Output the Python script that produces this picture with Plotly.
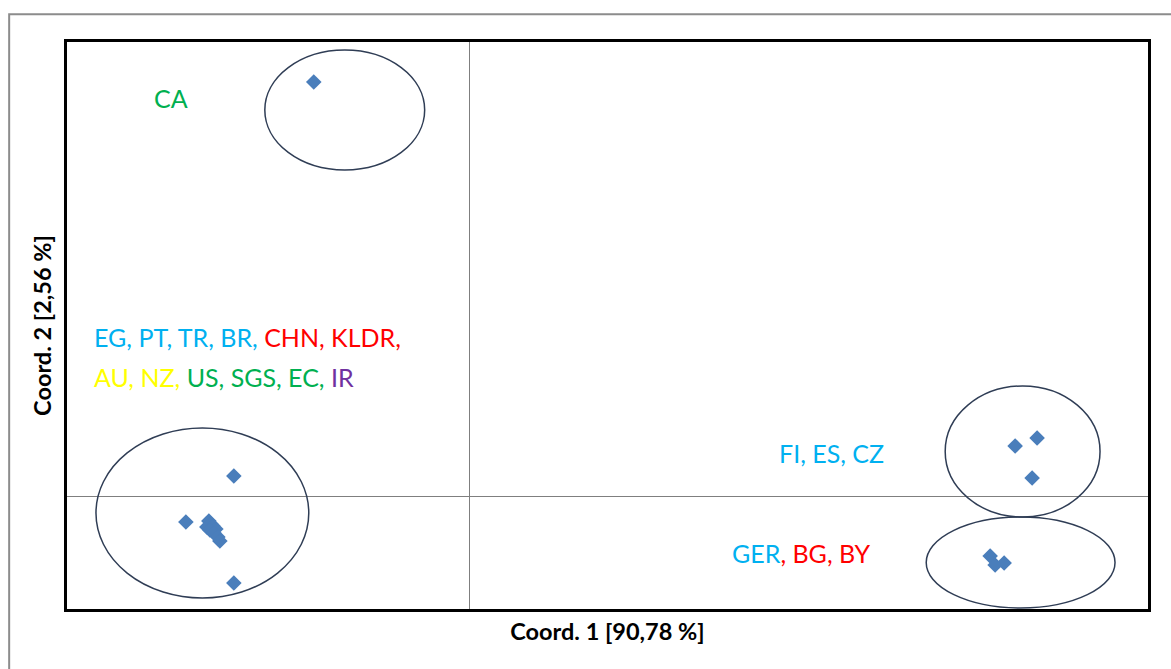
import plotly.graph_objects as go

# PCoA scores per population group
left_x = [-0.236, -0.284, -0.236, -0.261, -0.259, -0.263, -0.257, -0.254, -0.260, -0.256, -0.252, -0.250]
left_y = [0.010, -0.013, -0.0435, -0.0125, -0.014, -0.0155, -0.015, -0.0165, -0.017, -0.0185, -0.0205, -0.0225]
ca_x = [-0.156]
ca_y = [0.207]
upper_right_x = [0.546, 0.568, 0.563]
upper_right_y = [0.025, 0.029, 0.009]
lower_right_x = [0.521, 0.526, 0.535]
lower_right_y = [-0.030, -0.0345, -0.0335]

# Group enclosures: (x0, x1, y0, y1)
enclosures = [
    (-0.205, -0.045, 0.163, 0.223),
    (-0.374, -0.161, -0.051, 0.034),
    (0.476, 0.631, -0.0105, 0.055),
    (0.457, 0.646, -0.056, -0.0105),
]

BLUE = "#00b0f0"
RED = "#ff0000"
YELLOW = "#ffff00"
GREEN = "#00b050"
PURPLE = "#7030a0"

xs = left_x + ca_x + upper_right_x + lower_right_x
ys = left_y + ca_y + upper_right_y + lower_right_y

fig = go.Figure()
fig.add_trace(go.Scatter(
    x=xs, y=ys, mode="markers",
    marker=dict(symbol="diamond", size=12, color="#4a7ebb", line=dict(width=0)),
    showlegend=False, hoverinfo="skip",
))

shapes = []
for x0, x1, y0, y1 in enclosures:
    shapes.append(dict(type="circle", xref="x", yref="y", x0=x0, x1=x1, y0=y0, y1=y1,
                       line=dict(color="#2f3d55", width=1.5), layer="above"))
# outer chart frame
shapes.append(dict(type="rect", xref="paper", yref="paper", x0=-0.0535, x1=1.2, y0=-0.3, y1=1.0490,
                   line=dict(color="#8c8c8c", width=2), layer="below"))


def span(txt, col):
    return f'<span style="color:{col}">{txt}</span>'


label_font = dict(family="Lato", size=25)
annotations = [
    dict(x=-0.299, y=0.199, text=span("CA", GREEN), xanchor="center"),
    dict(x=-0.378, y=0.0795,
         text=span("EG, PT, TR, BR, ", BLUE) + span("CHN, KLDR,", RED), xanchor="left"),
    dict(x=-0.378, y=0.0595,
         text=span("AU, NZ, ", YELLOW) + span("US, SGS, EC, ", GREEN) + span("IR", PURPLE), xanchor="left"),
    dict(x=0.417, y=0.0215, text=span("FI, ES, CZ", BLUE), xanchor="right"),
    dict(x=0.404, y=-0.0285, text=span("GER", BLUE) + span(", BG, BY", RED), xanchor="right"),
]
for a in annotations:
    a.update(xref="x", yref="y", yanchor="middle", showarrow=False, font=label_font)

axis_common = dict(showgrid=False, showticklabels=False, ticks="", zeroline=True,
                   zerolinecolor="#7f7f7f", zerolinewidth=1,
                   showline=True, mirror=True, linecolor="black", linewidth=3)

fig.update_layout(
    width=1171, height=669,
    margin=dict(l=67, r=23, t=42, b=60),
    paper_bgcolor="white", plot_bgcolor="white",
    xaxis=dict(range=[-0.403, 0.679],
               title=dict(text="<b>Coord. 1 [90,78 %]</b>", standoff=13,
                          font=dict(family="Lato", size=23.5, color="black")),
               **axis_common),
    yaxis=dict(range=[-0.0565, 0.227],
               title=dict(text="<b>Coord. 2 [2,56 %]</b>", standoff=6,
                          font=dict(family="Lato", size=23.5, color="black")),
               **axis_common),
    shapes=shapes,
    annotations=annotations,
)

fig.write_html("out.html")
